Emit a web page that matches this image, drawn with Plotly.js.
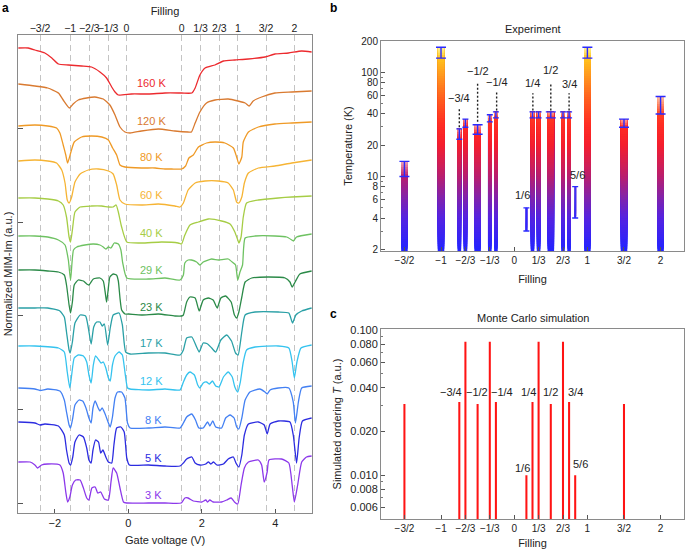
<!DOCTYPE html>
<html><head><meta charset="utf-8">
<script src="https://cdn.plot.ly/plotly-3.0.1.min.js"></script>
<style>html,body{margin:0;padding:0;background:#fff}#chart{width:685px;height:552px}</style>
</head><body><div id="chart"></div>
<script>
// ---------------- Panel a: MIM-Im traces (gate voltage V, normalized signal a.u.) ----------------
const volt160 = [-2.99,-2.72,-2.54,-2.27,-2.08,-1.90,-1.63,-1.27,-1.00,-0.77,-0.59,-0.45,-0.36,-0.27,0.09,0.55,1.00,1.45,1.73,1.82,1.95,2.09,2.36,2.59,2.90,3.27,3.72,3.99,4.36,4.72,4.99];
const sig160  = [465,465,463,460,455,449,448,447,446,441,435,426,421,418,419,419,420,420,420,425,438,445,448,452,453,454,456,459,460,462,461];
const volt120 = [-2.99,-2.54,-2.19,-1.90,-1.77,-1.60,-1.50,-1.36,-1.13,-0.91,-0.68,-0.50,-0.36,-0.225,-0.09,0.05,0.36,0.82,1.27,1.63,1.72,1.82,1.95,2.13,2.36,2.72,2.99,3.18,3.29,3.40,3.63,3.99,4.45,4.99];
const sig120  = [429,427,425,420,413,405,409,413,415,416,414,408,398,386,381,380,382,384,382,381,381,390,401,410,413,414,412,410,407,412,416,420,421,422];
const volt80 = [-2.99,-2.54,-2.19,-1.95,-1.86,-1.77,-1.70,-1.65,-1.56,-1.47,-1.27,-1.00,-0.72,-0.54,-0.425,-0.315,-0.225,-0.09,0.36,0.73,1.00,1.18,1.45,1.56,1.65,1.77,1.91,2.13,2.36,2.63,2.86,2.95,3.01,3.09,3.13,3.27,3.54,3.99,4.45,4.99];
const sig80  = [387,388,387,385,380,368,358,350,361,371,376,377,376,373,365,358,348,346,345,345,344,344,344,347,355,358,366,370,371,370,365,356,349,356,371,381,386,389,390,391];
const volt60 = [-2.99,-2.54,-2.19,-1.95,-1.81,-1.72,-1.66,-1.61,-1.54,-1.45,-1.31,-1.09,-0.815,-0.54,-0.41,-0.315,-0.225,-0.09,0.36,0.82,1.27,1.41,1.50,1.63,1.82,2.09,2.45,2.72,2.86,2.95,3.01,3.09,3.16,3.27,3.54,3.99,4.45,4.99];
const sig60  = [352,353,352,350,343,330,313,310,316,331,339,343,344,342,339,328,313,309,308,309,307,306,310,323,330,332,332,330,323,311,310,316,330,340,345,347,350,353];
const volt40 = [-2.99,-2.54,-2.19,-1.90,-1.77,-1.68,-1.61,-1.57,-1.52,-1.45,-1.31,-1.00,-0.72,-0.54,-0.41,-0.33,-0.27,-0.18,-0.04,0.36,0.91,1.36,1.45,1.54,1.68,1.91,2.18,2.54,2.77,2.90,2.98,3.01,3.07,3.13,3.22,3.54,4.08,4.45,4.99];
const sig40  = [315,315,314,312,308,296,276,271,283,301,306,307,307,306,306,308,301,286,271,270,271,270,269,278,288,291,294,292,289,281,273,270,276,296,310,313,315,316,317];
const volt29 = [-2.99,-2.54,-2.19,-1.90,-1.72,-1.63,-1.57,-1.49,-1.40,-1.18,-0.95,-0.77,-0.68,-0.61,-0.54,-0.47,-0.38,-0.27,-0.20,-0.15,-0.04,0.55,1.00,1.41,1.50,1.54,1.63,1.72,1.86,1.95,2.04,2.27,2.45,2.72,2.86,2.92,2.98,3.04,3.11,3.18,3.45,3.99,4.31,4.45,4.49,4.58,4.99];
const sig29  = [277,277,276,273,268,253,233,263,266,268,269,268,266,264,266,265,270,269,263,250,235,234,235,233,238,250,253,253,251,248,251,254,253,254,250,248,233,241,248,275,277,277,276,273,272,276,279];
const volt23 = [-2.99,-2.54,-2.19,-1.90,-1.74,-1.68,-1.61,-1.57,-1.52,-1.47,-1.36,-1.22,-1.13,-1.07,-0.95,-0.77,-0.68,-0.625,-0.59,-0.55,-0.50,-0.41,-0.32,-0.27,-0.225,-0.18,-0.09,0.0,0.36,0.82,1.27,1.45,1.50,1.59,1.68,1.82,1.93,2.04,2.18,2.31,2.42,2.52,2.65,2.80,2.89,2.95,3.01,3.09,3.18,3.36,3.81,4.27,4.40,4.46,4.54,4.67,4.99];
const sig23  = [243,243,242,241,238,228,208,200,211,228,233,232,229,228,234,235,232,220,211,222,236,239,238,232,215,203,199,199,198,199,197,197,198,211,216,215,202,213,215,213,205,215,217,211,198,195,201,216,231,235,236,235,231,226,231,239,242];
const volt17 = [-2.99,-2.54,-2.19,-1.86,-1.74,-1.68,-1.61,-1.58,-1.52,-1.45,-1.31,-1.16,-1.09,-1.01,-0.94,-0.86,-0.77,-0.71,-0.65,-0.56,-0.49,-0.41,-0.25,-0.16,-0.07,0.05,0.55,1.00,1.41,1.50,1.59,1.73,1.86,1.93,2.04,2.16,2.27,2.38,2.52,2.68,2.81,2.92,2.99,3.09,3.18,3.45,4.08,4.37,4.47,4.56,4.72,4.99];
const sig17  = [205,205,205,202,196,181,163,160,171,190,198,197,186,169,186,191,191,187,189,168,185,198,200,188,161,159,160,160,158,163,175,176,166,161,170,169,165,161,173,178,172,160,158,181,198,201,201,200,190,198,202,205];
const volt12 = [-2.99,-2.54,-1.90,-1.74,-1.66,-1.59,-1.54,-1.47,-1.36,-1.22,-1.13,-1.07,-1.01,-0.95,-0.89,-0.80,-0.74,-0.68,-0.61,-0.54,-0.49,-0.43,-0.36,-0.25,-0.16,-0.09,-0.02,0.05,0.55,1.00,1.41,1.50,1.59,1.68,1.80,1.89,1.95,2.04,2.13,2.21,2.29,2.38,2.47,2.59,2.72,2.83,2.90,2.98,3.05,3.13,3.22,3.45,4.08,4.37,4.46,4.52,4.59,4.70,4.99];
const sig12  = [167,167,165,161,141,125,138,155,158,157,151,138,130,148,157,153,150,151,145,135,132,148,157,161,158,141,125,124,123,124,123,131,138,141,138,128,125,130,131,129,132,127,126,136,141,136,126,121,131,151,163,166,167,165,151,135,151,165,168];
const volt8 = [-2.99,-2.54,-2.40,-2.19,-1.86,-1.74,-1.68,-1.61,-1.57,-1.51,-1.45,-1.34,-1.24,-1.15,-1.07,-1.01,-0.96,-0.90,-0.83,-0.77,-0.71,-0.63,-0.54,-0.49,-0.43,-0.36,-0.29,-0.18,-0.09,-0.02,0.05,0.55,1.00,1.41,1.50,1.59,1.73,1.83,1.92,2.04,2.16,2.22,2.30,2.38,2.54,2.65,2.77,2.88,2.95,3.01,3.09,3.18,3.31,3.58,3.72,3.78,3.86,4.08,4.37,4.49,4.55,4.63,4.72,4.99];
const sig8  = [125,124,122.5,124,122,113,101,88,85,95,108,113,112,105,95,90,105,112,106,102,105,99,90,86,96,115,121,121,115,90,85,85,86,85,90,96,99,93,85,85,91,87,92,86,85,95,98,95,86,84,95,113,121,124,121,119,123,125,125,111,90,111,125,127];
const volt5 = [-2.99,-2.54,-2.40,-2.27,-1.90,-1.74,-1.68,-1.61,-1.57,-1.51,-1.45,-1.34,-1.22,-1.13,-1.07,-1.01,-0.96,-0.89,-0.81,-0.75,-0.69,-0.61,-0.54,-0.45,-0.39,-0.315,-0.20,-0.11,-0.04,0.03,0.55,1.00,1.41,1.50,1.59,1.73,1.82,1.95,2.11,2.18,2.25,2.32,2.41,2.59,2.72,2.86,2.93,3.01,3.09,3.16,3.27,3.54,3.70,3.78,3.86,4.08,4.40,4.49,4.58,4.65,4.74,4.99];
const sig5  = [91,90,88,89,87,78,63,50,48,56,71,78,76,65,53,50,63,73,71,60,63,56,51,50,68,85,86,81,55,48,48,47,47,50,54,56,50,48,49,51,49,51,48,49,54,56,50,46,58,78,89,91,88,79,89,92,91,78,50,75,92,95];
const volt3 = [-2.99,-2.67,-2.54,-2.47,-2.36,-2.19,-1.86,-1.77,-1.70,-1.65,-1.59,-1.52,-1.43,-1.31,-1.22,-1.13,-1.07,-0.99,-0.90,-0.83,-0.75,-0.65,-0.54,-0.47,-0.41,-0.315,-0.225,-0.13,-0.04,0.55,1.00,1.44,1.54,1.63,1.77,2.00,2.11,2.16,2.22,2.31,2.54,2.68,2.80,2.89,2.98,3.07,3.16,3.27,3.54,3.63,3.70,3.78,3.83,4.17,4.37,4.46,4.52,4.61,4.72,4.85,4.99];
const sig3  = [51,51,48,45,48,49,48,40,21,11,16,28,33,33,25,15,13,25,26,20,21,14,13,31,45,40,25,11,10,10,10,10,15,15,12,11,13,11,13,11,11,13,15,11,9,28,45,51,53,48,31,41,53,54,50,28,11,28,51,56,57];

const tempLabels = ['160 K','120 K','80 K','60 K','40 K','29 K','23 K','17 K','12 K','8 K','5 K','3 K'];
const voltSets = [volt160,volt120,volt80,volt60,volt40,volt29,volt23,volt17,volt12,volt8,volt5,volt3];
const sigSets  = [sig160,sig120,sig80,sig60,sig40,sig29,sig23,sig17,sig12,sig8,sig5,sig3];

// filling marks on the top axis (gate voltage at which they occur)
const fillVolt  = [-2.40,-1.58,-1.06,-0.55,-0.05,1.455,1.97,2.48,2.985,3.75,4.52];
const fillText  = ['\u22123/2','\u22121','\u22122/3','\u22121/3','0','0','1/3','2/3','1','3/2','2'];

// ---------------- Panel b: experiment ----------------
const expFill = [-1.5,-1,-0.75,-2/3,-0.5,-1/3,-0.25,1/6,0.25,1/3,0.5,2/3,0.75,5/6,1,1.5,2];
const expLow  = [10,137,22.8,29.7,25.5,33.5,36.6,3.0,36.6,36.6,36.6,36.6,36.6,4.0,137,29.7,39.8];
const expHigh = [14,174,28.7,35.6,31.4,39.2,41.8,5.0,41.8,41.8,41.8,41.8,41.8,8.0,174,35.6,58.6];

// ---------------- Panel c: Monte Carlo ----------------
const simFill = [-1.5,-0.75,-2/3,-0.5,-1/3,-0.25,1/6,0.25,1/3,0.5,2/3,0.75,5/6,1.5];
const simT    = [0.031,0.032,0.083,0.031,0.083,0.032,0.010,0.032,0.083,0.031,0.083,0.032,0.010,0.031];

const fillTicks = [-1.5,-1,-2/3,-1/3,0,1/3,2/3,1,1.5,2];
const fillTickText = ['\u22123/2','\u22121','\u22122/3','\u22121/3','0','1/3','2/3','1','3/2','2'];

// ---------------- styling ----------------
const FONT = 'Liberation Sans, Arial, Helvetica, sans-serif';
const curveColors = ['#ec2a2e','#d97a30','#ef9a26','#f6b434','#a6cd45','#6ec262','#2b8a48','#2aa0a6','#35c3ef','#4380f3','#2c2ce0','#8c38ea'];
const labelX = [0.64,0.64,0.64,0.64,0.64,0.64,0.64,0.64,0.64,0.68,0.68,0.68];
const labelY = [430,392,356,318,280,243,206,170,132,93,55,18];

const traces = [];
const annotations = [];

voltSets.forEach((v,i)=>{
  traces.push({type:'scatter',mode:'lines',x:v,y:sigSets[i],xaxis:'x',yaxis:'y',
    line:{color:curveColors[i],width:1.3,shape:'spline',smoothing:0.5},hoverinfo:'skip',showlegend:false});
  annotations.push({xref:'x',yref:'y',x:labelX[i],y:labelY[i],text:tempLabels[i],showarrow:false,
    font:{family:FONT,size:11,color:curveColors[i]}});
});
// invisible trace for the top filling axis
traces.push({type:'scatter',x:[-3,5],y:[0,0],xaxis:'x2',yaxis:'y',mode:'markers',marker:{opacity:0},hoverinfo:'skip',showlegend:false});

// gradient colour for temperature bars
const gradStops = [[0.30,[35,35,255]],[0.60,[85,35,225]],[0.78,[125,35,175]],[1.0,[185,30,110]],[1.3,[245,30,45]],[1.5,[255,45,35]],[1.75,[255,95,30]],[2.0,[255,160,30]],[2.25,[255,225,25]],[2.5,[255,235,25]]];
function gradRGB(T){
  const l = Math.log10(T);
  if (l<=gradStops[0][0]) return gradStops[0][1];
  for (let j=1;j<gradStops.length;j++){
    if (l<=gradStops[j][0]){
      const a=gradStops[j-1], b=gradStops[j], t=(l-a[0])/(b[0]-a[0]);
      return a[1].map((c,k)=>c+(b[1][k]-c)*t);
    }
  }
  return gradStops[gradStops.length-1][1];
}
function den(f){ for (const d of [1,2,3,4,6]) if (Math.abs(f*d-Math.round(f*d))<1e-6) return d; return 6; }
function barWidth(f){ const d=den(f); return d<=2?0.09:(d<=4?0.05:0.03); }

const LB0 = Math.log10(1.93), LB1 = Math.log10(200), NSEG = 90;
for (let k=0;k<NSEG;k++){
  const l0 = LB0+(LB1-LB0)*k/NSEG, l1 = LB0+(LB1-LB0)*(k+1)/NSEG;
  const lo = Math.pow(10,l0), hi = Math.pow(10,l1);
  const xs=[],bs=[],ys=[],cs=[],ws=[];
  expFill.forEach((f,i)=>{
    const six = den(f)===6;
    const start = six ? expLow[i] : 1.0;
    const top = expHigh[i];
    if (top<=lo) return;
    if (hi<=start) return;
    const base = (k===0 && !six) ? start : Math.max(lo,start);
    const vis0 = Math.max(lo,start), vis1 = Math.min(hi,top);
    const mid = Math.sqrt(vis0*vis1);
    const tt = Math.min(1,Math.max(0,(Math.log10(mid)-Math.log10(expLow[i]))/(Math.log10(top)-Math.log10(expLow[i]))));
    let rgb = gradRGB(mid);
    let fade = six ? 0.55*tt : (mid>expLow[i] ? 0.6*tt : 0);
    rgb = rgb.map(c=>Math.round(c+(255-c)*fade));
    xs.push(f); bs.push(base); ys.push(top-base); cs.push('rgb('+rgb.join(',')+')');
    ws.push(six ? 0.03*(1-0.75*tt) : barWidth(f));
  });
  if (xs.length) traces.push({type:'bar',x:xs,y:ys,base:bs,width:ws,xaxis:'x3',yaxis:'y3',
    marker:{color:cs,line:{width:0}},hoverinfo:'skip',showlegend:false});
}
// error bars (experiment)
[[d=>d<=2,5],[d=>d>2,3]].forEach(([sel,w])=>{
  const xs=[],ys=[],ep=[],em=[];
  expFill.forEach((f,i)=>{ if(!sel(den(f))) return; const m=Math.sqrt(expLow[i]*expHigh[i]); xs.push(f); ys.push(m); ep.push(expHigh[i]-m); em.push(m-expLow[i]); });
  traces.push({type:'scatter',mode:'markers',x:xs,y:ys,xaxis:'x3',yaxis:'y3',marker:{size:2,color:'rgba(0,0,0,0)'},
    error_y:{type:'data',symmetric:false,array:ep,arrayminus:em,color:'#2a2aff',thickness:1.4,width:w},hoverinfo:'skip',showlegend:false});
});

// Monte Carlo bars
traces.push({type:'bar',x:simFill,y:simT,width:0.028,xaxis:'x4',yaxis:'y4',marker:{color:'#ff1414',line:{width:0}},hoverinfo:'skip',showlegend:false});

// labels in panel b with dashed leaders
const expLabels = [
  {t:'\u22123/4',x:-0.75,ly:57,y0:29.8,y1:46},
  {t:'\u22121/2',x:-0.5,ly:102,y0:33.5,y1:78},
  {t:'\u22121/4',x:-0.24,ly:80,y0:43,y1:65},
  {t:'1/4',x:0.255,ly:79,y0:43,y1:63},
  {t:'1/2',x:0.5,ly:106,y0:43,y1:78},
  {t:'3/4',x:0.75,ly:78,y0:43,y1:63},
  {t:'1/6',x:0.12,ly:6.6},
  {t:'5/6',x:0.865,ly:10.4}
];
expLabels.forEach(L=>{
  annotations.push({xref:'x3',yref:'y3',x:L.x,y:Math.log10(L.ly),text:L.t,showarrow:false,font:{family:FONT,size:11,color:'#222'}});
  if (L.y0) traces.push({type:'scatter',mode:'lines',x:[L.x,L.x],y:[L.y0,L.y1],xaxis:'x3',yaxis:'y3',
    line:{color:'#222',width:1.4,dash:'2px,2px'},hoverinfo:'skip',showlegend:false});
});
const simLabels = [
  {t:'\u22123/4',x:-0.86,ly:0.0376},{t:'\u22121/2',x:-0.508,ly:0.0376},{t:'\u22121/4',x:-0.16,ly:0.0376},
  {t:'1/4',x:0.2,ly:0.0376},{t:'1/2',x:0.5,ly:0.0376},{t:'3/4',x:0.836,ly:0.0376},
  {t:'1/6',x:0.117,ly:0.0112},{t:'5/6',x:0.91,ly:0.012}
];
simLabels.forEach(L=>annotations.push({xref:'x4',yref:'y4',x:L.x,y:Math.log10(L.ly),text:L.t,showarrow:false,font:{family:FONT,size:11,color:'#222'}}));

// panel letters and titles
[['a',5,8],['b',333,8],['c',333,314]].forEach(([t,px,py])=>annotations.push({xref:'paper',yref:'paper',x:px/685,y:1-py/552,text:'<b>'+t+'</b>',showarrow:false,xanchor:'center',yanchor:'middle',font:{family:FONT,size:12,color:'#000'}}));
[['Experiment',533,29],['Monte Carlo simulation',533,318]].forEach(([t,px,py])=>annotations.push({xref:'paper',yref:'paper',x:px/685,y:1-py/552,text:t,showarrow:false,xanchor:'center',yanchor:'middle',font:{family:FONT,size:11,color:'#222'}}));

const AX = {showline:true,linecolor:'#8a8a8a',linewidth:1,mirror:true,zeroline:false,showgrid:false,tickcolor:'#555',
  tickfont:{family:FONT,size:11,color:'#222'},title:{font:{family:FONT,size:11,color:'#222'}}};
function ax(o){ const r=JSON.parse(JSON.stringify(AX)); for(const k in o){ if(k==='title') r.title=Object.assign(r.title,o.title); else r[k]=o[k]; } return r; }

const pxX = p=>p/685, pxY = p=>1-p/552;
const smallTick = {family:FONT,size:10,color:'#222'};
const layout = {
  width:685,height:552,margin:{l:0,r:0,t:0,b:0},paper_bgcolor:'#fff',plot_bgcolor:'#fff',
  showlegend:false,hovermode:false,barmode:'overlay',font:{family:FONT,size:11,color:'#222'},
  xaxis: ax({domain:[pxX(18),pxX(312)],range:[-3,5],anchor:'y',tickvals:[-2,0,2,4],ticks:'inside',ticklen:4,
    title:{text:'Gate voltage (V)',standoff:8}}),
  xaxis2: ax({overlaying:'x',side:'top',anchor:'y',range:[-3,5],tickvals:fillVolt,ticktext:fillText,ticks:'',showline:false,tickangle:0,
    tickfont:{family:FONT,size:10.5,color:'#222'},
    showgrid:true,gridcolor:'#c4c4c4',gridwidth:1,griddash:'6px,4px',title:{text:'Filling',standoff:4}}),
  yaxis: ax({domain:[pxY(513),pxY(35)],range:[0,478],anchor:'x',tick0:10,dtick:93.6,tickmode:'linear',showticklabels:false,ticks:'inside',ticklen:5,
    title:{text:'Normalized MIM-Im (a.u.)',standoff:2}}),
  xaxis3: ax({domain:[pxX(381),pxX(684)],range:[-1.82,2.32],anchor:'y3',tickvals:fillTicks,ticktext:fillTickText,ticks:'inside',ticklen:4,
    tickangle:0,tickfont:smallTick,title:{text:'Filling',standoff:10}}),
  yaxis3: ax({domain:[pxY(251),pxY(41)],type:'log',range:[Math.log10(1.93),Math.log10(200)],anchor:'x3',
    tickvals:[2,4,6,8,10,20,40,60,80,100,200],ticktext:['2','4','6','8','10','20','40','60','80','100','200'],ticks:'inside',ticklen:4,
    tickfont:smallTick,minor:{tickvals:[3,5,7,9,30,50,70,90],ticks:'inside',ticklen:2,tickcolor:'#777'},
    title:{text:'Temperature (K)',standoff:6}}),
  xaxis4: ax({domain:[pxX(381),pxX(684)],range:[-1.82,2.32],anchor:'y4',tickvals:fillTicks,ticktext:fillTickText,ticks:'inside',ticklen:4,
    tickangle:0,tickfont:smallTick,title:{text:'Filling',standoff:6}}),
  yaxis4: ax({domain:[pxY(519),pxY(329)],type:'log',range:[Math.log10(0.005),Math.log10(0.1016)],anchor:'x4',
    tickvals:[0.006,0.008,0.01,0.02,0.04,0.06,0.08,0.1],ticktext:['0.006','0.008','0.010','0.020','0.040','0.060','0.080','0.100'],ticks:'inside',ticklen:4,
    tickfont:{family:FONT,size:11,color:'#222'},minor:{tickvals:[0.005,0.007,0.009,0.03,0.05,0.07,0.09],ticks:'inside',ticklen:2,tickcolor:'#777'},
    title:{text:'Simulated ordering <i>T</i> (a.u.)',standoff:6}}),
  annotations:annotations
};
Plotly.newPlot('chart',traces,layout,{staticPlot:true,displayModeBar:false});
</script></body></html>
